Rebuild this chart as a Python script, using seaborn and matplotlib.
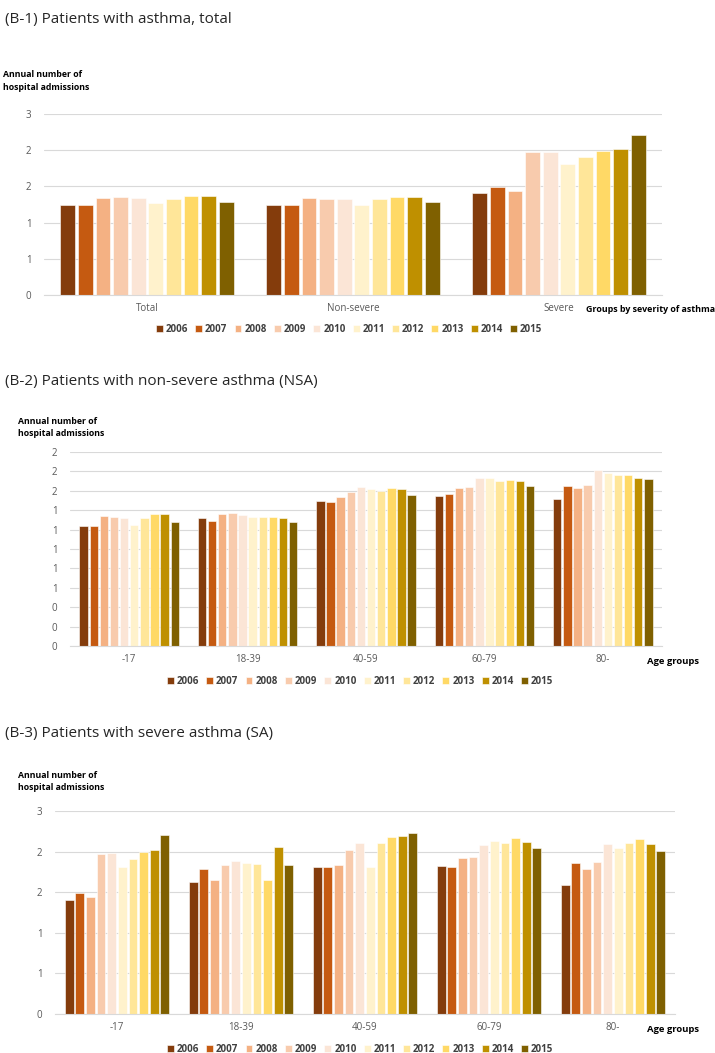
import numpy as np
import pandas as pd
import matplotlib
matplotlib.use("Agg")
import matplotlib.pyplot as plt
from matplotlib.ticker import FuncFormatter, MultipleLocator
import seaborn as sns

years = ["2006", "2007", "2008", "2009", "2010", "2011", "2012", "2013", "2014", "2015"]
colors = ["#843C0C", "#C55A11", "#F4B183", "#F8CBAD", "#FBE5D6",
          "#FFF2CC", "#FFE699", "#FFD966", "#BF9000", "#7F6000"]

# (B-1) total, by severity
b1_groups = ["Total", "Non-severe", "Severe"]
b1_total = [1.25, 1.25, 1.34, 1.35, 1.34, 1.27, 1.32, 1.37, 1.37, 1.29]
b1_nonsevere = [1.24, 1.24, 1.34, 1.33, 1.32, 1.25, 1.32, 1.36, 1.36, 1.28]
b1_severe = [1.41, 1.49, 1.44, 1.97, 1.98, 1.81, 1.91, 1.99, 2.02, 2.21]

# (B-2) non-severe asthma by age group
age_groups = ["-17", "18-39", "40-59", "60-79", "80-"]
b2_0_17 = [1.24, 1.24, 1.34, 1.33, 1.32, 1.25, 1.32, 1.36, 1.36, 1.28]
b2_18_39 = [1.32, 1.29, 1.36, 1.37, 1.35, 1.33, 1.33, 1.33, 1.32, 1.28]
b2_40_59 = [1.50, 1.48, 1.54, 1.59, 1.64, 1.62, 1.60, 1.63, 1.62, 1.56]
b2_60_79 = [1.55, 1.57, 1.63, 1.64, 1.73, 1.73, 1.70, 1.71, 1.70, 1.65]
b2_80 = [1.52, 1.65, 1.63, 1.66, 1.81, 1.78, 1.76, 1.76, 1.73, 1.72]

# (B-3) severe asthma by age group
b3_0_17 = [1.41, 1.49, 1.44, 1.97, 1.98, 1.81, 1.91, 1.99, 2.02, 2.21]
b3_18_39 = [1.62, 1.79, 1.65, 1.84, 1.89, 1.86, 1.85, 1.65, 2.06, 1.83]
b3_40_59 = [1.81, 1.81, 1.83, 2.02, 2.10, 1.81, 2.10, 2.18, 2.19, 2.23]
b3_60_79 = [1.82, 1.81, 1.92, 1.93, 2.08, 2.13, 2.10, 2.17, 2.12, 2.04]
b3_80 = [1.59, 1.86, 1.78, 1.87, 2.09, 2.04, 2.10, 2.16, 2.09, 2.01]

panels = [
    dict(title="(B-1) Patients with asthma, total", groups=b1_groups,
         values=[b1_total, b1_nonsevere, b1_severe], xlabel="Groups by severity of asthma",
         ymax=2.5, ystep=0.5, ax_px=(44, 114, 662, 295), title_y=20, ylab_y=70,
         ylab_x=3, xlab_x=586, xlab_size=6.4, legend_cx=349, legend_y=329),
    dict(title="(B-2) Patients with non-severe asthma (NSA)", groups=age_groups,
         values=[b2_0_17, b2_18_39, b2_40_59, b2_60_79, b2_80], xlabel="Age groups",
         ymax=2.0, ystep=0.2, ax_px=(70, 452, 662, 646), title_y=382, ylab_y=417,
         ylab_x=18, xlab_x=647, xlab_size=6.8, legend_cx=360, legend_y=681),
    dict(title="(B-3) Patients with severe asthma (SA)", groups=age_groups,
         values=[b3_0_17, b3_18_39, b3_40_59, b3_60_79, b3_80], xlabel="Age groups",
         ymax=2.5, ystep=0.5, ax_px=(55, 811, 675, 1014), title_y=733, ylab_y=771,
         ylab_x=18, xlab_x=647, xlab_size=6.8, legend_cx=360, legend_y=1049),
]

sns.set_theme(style="white")
plt.rcParams["font.family"] = ["Open Sans", "DejaVu Sans"]

W, H = 715, 1053
fig = plt.figure(figsize=(W / 100, H / 100), dpi=100)

fmt = FuncFormatter(lambda v, p: f"{int(np.floor(v + 0.5 + 1e-9))}")

for p in panels:
    rows = []
    for g, vals in zip(p["groups"], p["values"]):
        for y, v in zip(years, vals):
            rows.append({"group": g, "year": y, "value": v})
    df = pd.DataFrame(rows)
    x0, y0, x1, y1 = p["ax_px"]
    ax = fig.add_axes([x0 / W, 1 - y1 / H, (x1 - x0) / W, (y1 - y0) / H])
    sns.barplot(data=df, x="group", y="value", hue="year", order=p["groups"],
                hue_order=years, palette=colors, saturation=1, width=0.855, gap=0.17,
                edgecolor="white", linewidth=0.4, ax=ax, legend=True)
    ax.set_ylim(0, p["ymax"])
    ax.yaxis.set_major_locator(MultipleLocator(p["ystep"]))
    ax.yaxis.set_major_formatter(fmt)
    ax.grid(axis="y", color="#D9D9D9", linewidth=0.8)
    ax.set_axisbelow(True)
    for s in ["top", "right", "left"]:
        ax.spines[s].set_visible(False)
    ax.spines["bottom"].set_color("#D9D9D9")
    ax.spines["bottom"].set_linewidth(0.8)
    ax.tick_params(axis="both", length=0, labelsize=7, colors="#595959", pad=6)
    ax.tick_params(axis="y", pad=9)
    ax.set_xlabel("")
    ax.set_ylabel("")
    h, l = ax.get_legend_handles_labels()
    ax.get_legend().remove()
    fig.legend(h, l, loc="center", bbox_to_anchor=(p["legend_cx"] / W, 1 - p["legend_y"] / H),
               ncol=10, frameon=False, handlelength=0.7, handleheight=0.7,
               handletextpad=0.3, columnspacing=0.75,
               prop={"size": 7, "weight": "bold"}, labelcolor="#404040")
    fig.text(5 / W, 1 - p["title_y"] / H, p["title"], fontsize=11, color="#262626",
             ha="left", va="center")
    fig.text(p["ylab_x"] / W, 1 - p["ylab_y"] / H, "Annual number of\nhospital admissions",
             fontsize=6.3, fontweight="bold", color="black", ha="left", va="top",
             linespacing=1.5)
    fig.text(p["xlab_x"] / W, 1 - (y1 + 15) / H, p["xlabel"], fontsize=p["xlab_size"],
             fontweight="bold", color="black", ha="left", va="center")

fig.savefig("out.png", dpi=100)
